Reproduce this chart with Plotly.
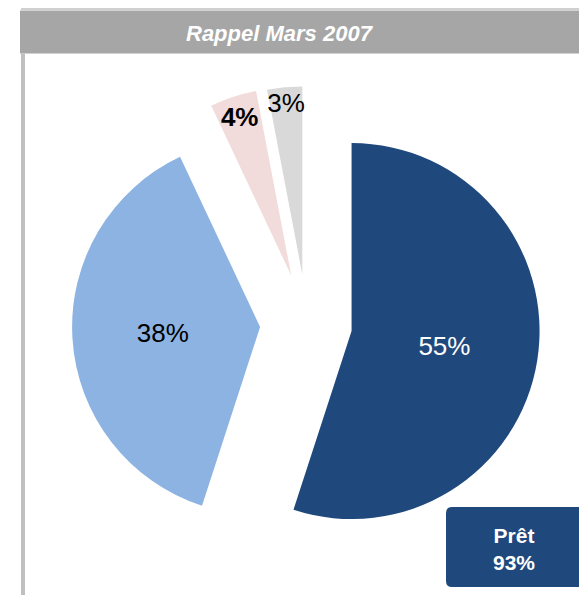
import plotly.graph_objects as go

# Data
labels = ["Prêt", "Plutôt prêt", "Pas vraiment prêt", "Pas prêt"]
values = [55, 38, 4, 3]
slice_colors = ["#1F497D", "#8DB3E2", "#F2DCDB", "#D9D9D9"]
text_colors = ["white", "black", "black", "black"]
text_weights = ["normal", "normal", "bold", "normal"]
pulls = [0.24, 0.25, 0.27, 0.265]
title_text = "Rappel Mars 2007"
summary_label = "Prêt"
summary_value = "93%"

W, H = 579, 595

def px(x):
    return x / W

def py(y):
    return 1 - y / H

fig = go.Figure()
fig.add_trace(go.Pie(
    labels=labels,
    values=values,
    sort=False,
    direction="clockwise",
    rotation=0,
    pull=pulls,
    marker=dict(colors=slice_colors, line=dict(width=0)),
    texttemplate="%{percent:.0%}",
    textinfo="percent",
    textposition="inside",
    insidetextorientation="horizontal",
    textfont=dict(family="Liberation Sans, Arial, sans-serif", size=26,
                  color=text_colors, weight=text_weights),
    domain=dict(x=[px(68.25), px(545.75)], y=[py(562.75), py(85.25)]),
    hoverinfo="label+percent",
))

# rounded rectangle for summary box
x0, x1, y0, y1, rr = 446, 590, 507, 587, 6
path = (
    f"M {px(x0+rr)},{py(y0)} L {px(x1)},{py(y0)} L {px(x1)},{py(y1)} "
    f"L {px(x0+rr)},{py(y1)} Q {px(x0)},{py(y1)} {px(x0)},{py(y1-rr)} "
    f"L {px(x0)},{py(y0+rr)} Q {px(x0)},{py(y0)} {px(x0+rr)},{py(y0)} Z"
)

shapes = [
    # thin top line
    dict(type="rect", xref="paper", yref="paper", x0=px(21), x1=1.01, y0=py(10), y1=py(8),
         fillcolor="#D0D0D0", line=dict(width=0), layer="below"),
    # header bar
    dict(type="rect", xref="paper", yref="paper", x0=px(20), x1=1.01, y0=py(53.5), y1=py(10.5),
         fillcolor="#A6A6A6", line=dict(width=0), layer="below"),
    # left vertical line
    dict(type="rect", xref="paper", yref="paper", x0=px(21), x1=px(25), y0=-0.01, y1=py(53.5),
         fillcolor="#C0C0C0", line=dict(width=0), layer="below"),
    dict(type="path", xref="paper", yref="paper", path=path,
         fillcolor="#1F497D", line=dict(width=0)),
]

annotations = [
    dict(text=f"<b><i>{title_text}</i></b>", x=px(280), y=py(33), xref="paper", yref="paper",
         showarrow=False, xanchor="center", yanchor="middle",
         font=dict(family="Liberation Sans, Arial, sans-serif", size=22, color="white")),
    dict(text=f"<b>{summary_label}<br>{summary_value}</b>", x=px(514), y=py(549), xref="paper", yref="paper",
         showarrow=False, xanchor="center", yanchor="middle",
         font=dict(family="Liberation Sans, Arial, sans-serif", size=21, color="white")),
]

fig.update_layout(
    width=W, height=H,
    margin=dict(l=0, r=0, t=0, b=0),
    paper_bgcolor="white",
    plot_bgcolor="white",
    showlegend=False,
    shapes=shapes,
    annotations=annotations,
    uniformtext=dict(mode="show", minsize=25.5),
)

fig.write_html(
    "out.html",
    config={"displayModeBar": False},
    post_script="document.body.style.margin='0';document.body.style.overflow='hidden';",
)
